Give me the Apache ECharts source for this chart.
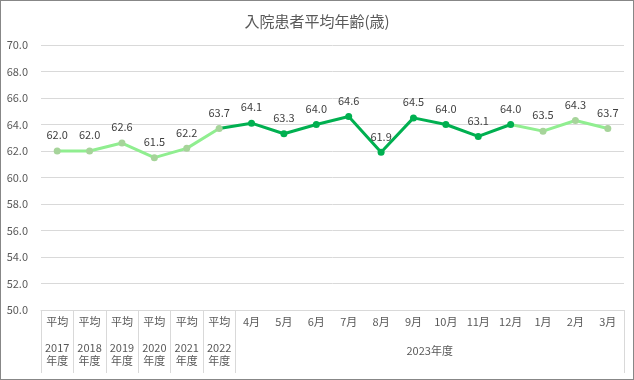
<!DOCTYPE html>
<html><head><meta charset="utf-8">
<script src="https://cdn.jsdelivr.net/npm/echarts@6/dist/echarts.min.js"></script>
<style>
html,body{margin:0;padding:0;background:#fff;}
#wrap{width:632px;height:378px;border:1px solid #878787;}
#c{width:632px;height:378px;}
</style></head>
<body><div id="wrap"><div id="c"></div></div>
<script>
var title = '入院患者平均年齢(歳)';
var avgYears = ['2017','2018','2019','2020','2021','2022'];
var months = ['4月','5月','6月','7月','8月','9月','10月','11月','12月','1月','2月','3月'];
var fiscalLabel = '2023年度';
var values = [62.0,62.0,62.6,61.5,62.2,63.7,64.1,63.3,64.0,64.6,61.9,64.5,64.0,63.1,64.0,63.5,64.3,63.7];
var yTicks = {min:50, max:70, step:2};

var categories = avgYears.map(function(y){return '平均\n' + y + '\n年度';}).concat(months);
var nAvg = avgYears.length;
var lastDark = nAvg + months.indexOf('12月');

var LIGHT = '#90EE90', LIGHT_MK = '#A6D49A', DARK = '#00B050';
var FONT = '"Noto Sans CJK JP", "Noto Sans", sans-serif';
var TXT = '#595959';

function seg(from, to, hideFirst){
  return values.map(function(v,i){
    if(i < from || i > to) return null;
    if(hideFirst && i === from) return {value:v, symbol:'none', label:{show:false}};
    return v;
  });
}
function mkSeries(data, lineColor, mkColor, z){
  return {
    type:'line', data:data, z:z, symbol:'circle', symbolSize:7, showAllSymbol:true,
    lineStyle:{color:lineColor, width:3},
    itemStyle:{color:mkColor},
    label:{show:true, position:'top', distance:7, fontSize:11, color:'#404040', fontFamily:FONT,
      formatter:function(p){return Number(p.value).toFixed(1);}},
    emphasis:{disabled:true}, animation:false
  };
}

var chart = echarts.init(document.getElementById('c'));
chart.setOption({
  animation:false,
  textStyle:{fontFamily:FONT},
  title:{text:title, left:'center', top:8, textStyle:{fontSize:15, fontWeight:'normal', color:TXT, fontFamily:FONT}},
  grid:{left:40, right:9, top:44, bottom:69},
  xAxis:[{
    type:'category', data:categories, boundaryGap:true,
    axisLine:{show:true, lineStyle:{color:'#D9D9D9'}},
    axisTick:{show:true, length:63, lineStyle:{color:'#D9D9D9'},
      interval:function(i){return i <= nAvg;}},
    axisLabel:{interval:0, margin:0, color:TXT, fontFamily:FONT,
      formatter:function(v){
        var p = v.split('\n');
        if(p.length === 3) return '{a|' + p[0] + '}\n{g| }\n{b|' + p[1] + '}\n{b|' + p[2] + '}';
        return '{a|' + v + '}';
      },
      rich:{
        a:{fontSize:11, lineHeight:24, color:TXT, fontFamily:FONT},
        g:{fontSize:6, lineHeight:7},
        b:{fontSize:11, lineHeight:13, color:TXT, fontFamily:FONT}
      }
    }
  },{
    type:'value', position:'bottom', min:0, max:categories.length, interval:nAvg,
    axisLine:{show:false}, axisTick:{show:false}, splitLine:{show:false},
    axisLabel:{margin:35, fontSize:11, color:TXT, fontFamily:FONT, showMinLabel:true, showMaxLabel:true,
      formatter:function(v){return v === (nAvg + categories.length)/2 ? fiscalLabel : '';}}
  }],
  yAxis:{
    type:'value', min:yTicks.min, max:yTicks.max, interval:yTicks.step,
    axisLine:{show:false}, axisTick:{show:false},
    splitLine:{lineStyle:{color:'#D9D9D9'}},
    axisLabel:{margin:13, fontSize:11, color:TXT, fontFamily:FONT,
      formatter:function(v){return v.toFixed(1);}}
  },
  series:[
    mkSeries(seg(0, nAvg-1, false), LIGHT, LIGHT_MK, 4),
    mkSeries(seg(nAvg-1, lastDark, true), DARK, DARK, 3),
    mkSeries(seg(lastDark, values.length-1, true), LIGHT, LIGHT_MK, 2)
  ]
});
</script></body></html>
